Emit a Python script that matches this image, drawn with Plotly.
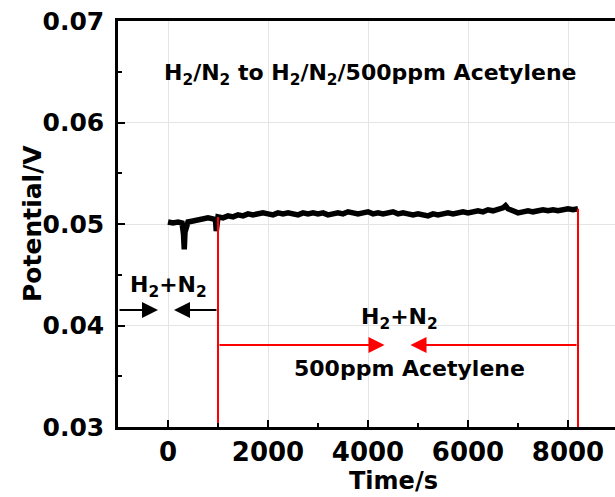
import plotly.graph_objects as go

# ---- data ----
time_s = [0, 100, 200, 280, 310, 325, 340, 370, 400, 500, 600, 700, 800, 900, 950, 965, 980,
          1000, 1100, 1200, 1300, 1400, 1500, 1600, 1700, 1800, 1900, 2000, 2100, 2200, 2300,
          2400, 2500, 2600, 2700, 2800, 2900, 3000, 3100, 3200, 3300, 3400, 3500, 3600, 3700,
          3800, 3900, 4000, 4100, 4200, 4300, 4400, 4500, 4600, 4700, 4800, 4900, 5000, 5100,
          5200, 5300, 5400, 5500, 5600, 5700, 5800, 5900, 6000, 6100, 6200, 6300, 6400, 6500,
          6600, 6700, 6750, 6800, 6900, 7000, 7100, 7200, 7300, 7400, 7500, 7600, 7700, 7800,
          7900, 8000, 8100, 8200]
potential_v = [0.0502, 0.0501, 0.0502, 0.0501, 0.0490, 0.0475, 0.0492, 0.0501, 0.0502, 0.0503,
               0.0504, 0.0505, 0.0506, 0.0505, 0.0504, 0.0493, 0.0505,
               0.0507, 0.0506, 0.0508, 0.0507, 0.0509, 0.0508, 0.0510, 0.0509, 0.0510, 0.0511,
               0.0510, 0.0509, 0.0511, 0.0510, 0.0511, 0.0510, 0.0509, 0.0511, 0.0510, 0.0511,
               0.0510, 0.0511, 0.0509, 0.0510, 0.0511, 0.0510, 0.0512, 0.0511, 0.0510, 0.0511,
               0.0512, 0.0510, 0.0511, 0.0510, 0.0511, 0.0512, 0.0510, 0.0511, 0.0510, 0.0509,
               0.0510, 0.0509, 0.0508, 0.0510, 0.0509, 0.0510, 0.0511, 0.0510, 0.0511, 0.0512,
               0.0511, 0.0512, 0.0513, 0.0512, 0.0514, 0.0513, 0.0514, 0.0516, 0.0518, 0.0515,
               0.0513, 0.0511, 0.0512, 0.0513, 0.0512, 0.0513, 0.0514, 0.0513, 0.0514, 0.0513,
               0.0514, 0.0515, 0.0514, 0.0515]

switch_times = [1000, 8200]           # red vertical markers (s)
switch_tops = [0.0507, 0.0515]        # where the red lines meet the curve (V)

x_ticks = [0, 2000, 4000, 6000, 8000]
y_ticks = [0.03, 0.04, 0.05, 0.06, 0.07]
y_tick_text = ["0.03", "0.04", "0.05", "0.06", "0.07"]

title_text = "H<sub>2</sub>/N<sub>2</sub> to H<sub>2</sub>/N<sub>2</sub>/500ppm Acetylene"
gas_text = "H<sub>2</sub>+N<sub>2</sub>"
acet_text = "500ppm Acetylene"

X_MIN, X_MAX = -1000, 8940
Y_MIN, Y_MAX = 0.03, 0.07

FONT = "DejaVu Sans"
BLACK = "#000000"
RED = "#ff0000"

fig = go.Figure()

fig.add_trace(go.Scatter(x=time_s, y=potential_v, mode="lines",
                         line=dict(color=BLACK, width=5.5), showlegend=False))

for t, top in zip(switch_times, switch_tops):
    fig.add_trace(go.Scatter(x=[t, t], y=[Y_MIN, top], mode="lines",
                             line=dict(color=RED, width=2), showlegend=False))

def arrow(tip_x, tail_x, y, color):
    return dict(x=tip_x, y=y, ax=tail_x, ay=y, xref="x", yref="y", axref="x", ayref="y",
                text="", showarrow=True, arrowhead=2, arrowsize=1.6, arrowwidth=2,
                arrowcolor=color)

annotations = []
black_arrow_y = 0.04153
annotations.append(arrow(-200, X_MIN, black_arrow_y, BLACK))
annotations.append(arrow(120, switch_times[0], black_arrow_y, BLACK))
red_arrow_y = 0.03808
annotations.append(arrow(4330, switch_times[0], red_arrow_y, RED))
annotations.append(arrow(4850, switch_times[1], red_arrow_y, RED))

TXT = dict(family=FONT, size=22, color=BLACK, weight="bold")
annotations.append(dict(x=4050, y=0.0647, xref="x", yref="y", text=title_text, showarrow=False, font=TXT))
annotations.append(dict(x=0, y=0.0438, xref="x", yref="y", text=gas_text, showarrow=False, font=TXT))
annotations.append(dict(x=4620, y=0.0407, xref="x", yref="y", text=gas_text, showarrow=False, font=TXT))
annotations.append(dict(x=4820, y=0.0358, xref="x", yref="y", text=acet_text, showarrow=False, font=TXT))
# axis titles
annotations.append(dict(x=0, y=0.5, xref="paper", yref="paper", xshift=-86, text="Potential/V",
                        textangle=-90, showarrow=False, xanchor="center", yanchor="middle",
                        font=dict(family=FONT, size=25, color=BLACK, weight="bold")))
annotations.append(dict(x=4500, y=0, xref="x", yref="paper", yshift=-54, text="Time/s",
                        showarrow=False, xanchor="center", yanchor="middle",
                        font=dict(family=FONT, size=24, color=BLACK, weight="bold")))

fig.update_layout(
    width=615, height=497,
    margin=dict(l=118, r=0, t=21, b=70),
    paper_bgcolor="white", plot_bgcolor="white",
    annotations=annotations,
    showlegend=False,
)

fig.update_xaxes(range=[X_MIN, X_MAX], tickvals=x_ticks, ticks="inside", ticklen=7, tickwidth=2,
                 tickcolor=BLACK, showline=True, linewidth=2.5, linecolor=BLACK, mirror=True,
                 showgrid=True, gridcolor="#e4e4e4", gridwidth=1, zeroline=False,
                 minor=dict(dtick=1000, tick0=0, ticks="inside", ticklen=4, tickwidth=2, tickcolor=BLACK, showgrid=False),
                 tickfont=dict(family=FONT, size=26, color=BLACK, weight="bold"))
fig.update_yaxes(range=[Y_MIN, Y_MAX], tickvals=y_ticks, ticktext=y_tick_text, ticks="inside",
                 ticklen=7, tickwidth=2, tickcolor=BLACK, showline=True, linewidth=2.5,
                 linecolor=BLACK, mirror=False, showgrid=True, gridcolor="#e4e4e4", gridwidth=1,
                 zeroline=False, ticklabelstandoff=6,
                 minor=dict(dtick=0.005, tick0=0.03, ticks="inside", ticklen=4, tickwidth=2, tickcolor=BLACK, showgrid=False),
                 tickfont=dict(family=FONT, size=25, color=BLACK, weight="bold"))

fig.write_html("out.html")
